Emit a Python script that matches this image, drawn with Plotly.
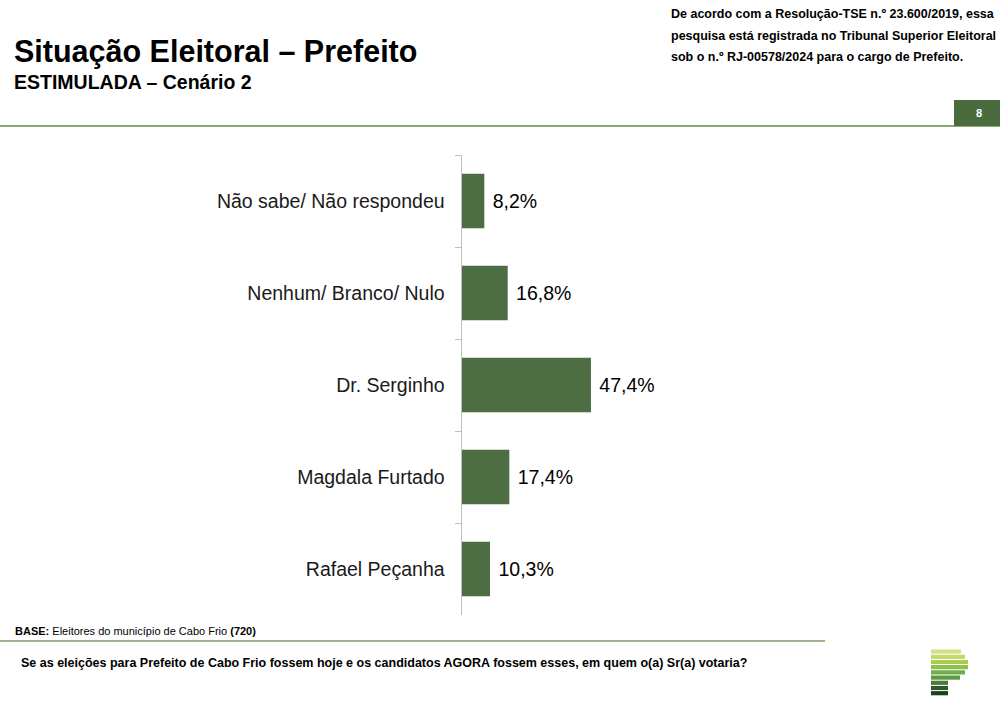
import plotly.graph_objects as go

categories = ["Não sabe/ Não respondeu", "Nenhum/ Branco/ Nulo", "Dr. Serginho",
              "Magdala Furtado", "Rafael Peçanha"]
values = [8.2, 16.8, 47.4, 17.4, 10.3]
value_labels = ["8,2%", "16,8%", "47,4%", "17,4%", "10,3%"]

W, H = 1000, 706
def py(px):
    return 1 - px / H
def pxx(px):
    return px / W

NARROW = "Liberation Sans Narrow, Arial Narrow, Liberation Sans, Arial, sans-serif"
ARIAL = "Liberation Sans, Arial, sans-serif"

fig = go.Figure()
fig.add_trace(go.Bar(
    y=categories, x=values, orientation="h",
    text=[" " + t for t in value_labels], textposition="outside",
    textfont=dict(family=ARIAL, size=19.5, color="#000000"),
    marker=dict(color="#4d6d42", line=dict(width=0)),
    width=0.59, cliponaxis=False, hoverinfo="skip",
))

fig.update_layout(
    width=W, height=H, margin=dict(l=0, r=0, t=0, b=0),
    paper_bgcolor="white", plot_bgcolor="white", showlegend=False,
    xaxis=dict(domain=[pxx(462), pxx(734)], range=[0, 100], visible=False, fixedrange=True),
    yaxis=dict(domain=[py(615), py(155)], autorange="reversed", type="category",
               tickson="boundaries", ticks="outside", ticklen=6, tickcolor="#bfbfbf",
               showline=True, linecolor="#bfbfbf", linewidth=1.5, showgrid=False,
               tickfont=dict(family=ARIAL, size=19.5, color="#1a1a1a"),
               ticklabelstandoff=12, fixedrange=True),
)

shapes = [
    dict(type="line", xref="paper", yref="paper", x0=0, x1=1, y0=py(126), y1=py(126),
         line=dict(color="#6b8a4e", width=1.5)),
    dict(type="rect", xref="paper", yref="paper", x0=pxx(954), x1=1, y0=py(126), y1=py(100),
         fillcolor="#4a6b3d", line=dict(width=0)),
    dict(type="line", xref="paper", yref="paper", x0=0, x1=pxx(825), y0=py(641), y1=py(641),
         line=dict(color="#7f9a6a", width=1.5)),
]
logo_ends = [961, 965, 968, 968, 965, 960, 948, 948, 948]
logo_cols = ["#d4e08a", "#c5da6a", "#a8cd4e", "#8fc04c", "#6fae48", "#5a9a45", "#4d7a3e", "#2e5a2a", "#1d4020"]
for i, (e, c) in enumerate(zip(logo_ends, logo_cols)):
    y0 = 649.5 + i * 5.2
    shapes.append(dict(type="rect", xref="paper", yref="paper", x0=pxx(931), x1=pxx(e),
                       y0=py(y0 + 4.2), y1=py(y0), fillcolor=c, line=dict(width=0)))
fig.update_layout(shapes=shapes)

def ann(text, x, y, size, family, color="#000000", xanchor="left"):
    fig.add_annotation(text=text, x=pxx(x), y=py(y), xref="paper", yref="paper",
                       xanchor=xanchor, yanchor="middle", showarrow=False,
                       font=dict(family=family, size=size, color=color))

ann("<b>Situação Eleitoral – Prefeito</b>", 12, 52, 30.5, NARROW)
ann("<b>ESTIMULADA – Cenário 2</b>", 12, 82, 19.5, NARROW)
ann("<b>De acordo com a Resolução-TSE n.º 23.600/2019, essa</b>", 669, 14, 12.5, NARROW)
ann("<b>pesquisa está registrada no Tribunal Superior Eleitoral</b>", 669, 36, 12.5, NARROW)
ann("<b>sob o n.º RJ-00578/2024 para o cargo de Prefeito.</b>", 669, 57, 12.5, NARROW)
ann("<b>8</b>", 979, 113, 11, ARIAL, color="#ffffff", xanchor="center")
ann("<b>BASE:</b> Eleitores do município de Cabo Frio <b>(720)</b>", 13, 631, 11, ARIAL)
ann("<b>Se as eleições para Prefeito de Cabo Frio fossem hoje e os candidatos AGORA fossem esses, em quem o(a) Sr(a) votaria?</b>",
    19, 663, 12.5, NARROW)

fig.write_html("out.html", config={"displayModeBar": False, "staticPlot": True},
               post_script="document.body.style.margin='0';document.body.style.overflow='hidden';")
